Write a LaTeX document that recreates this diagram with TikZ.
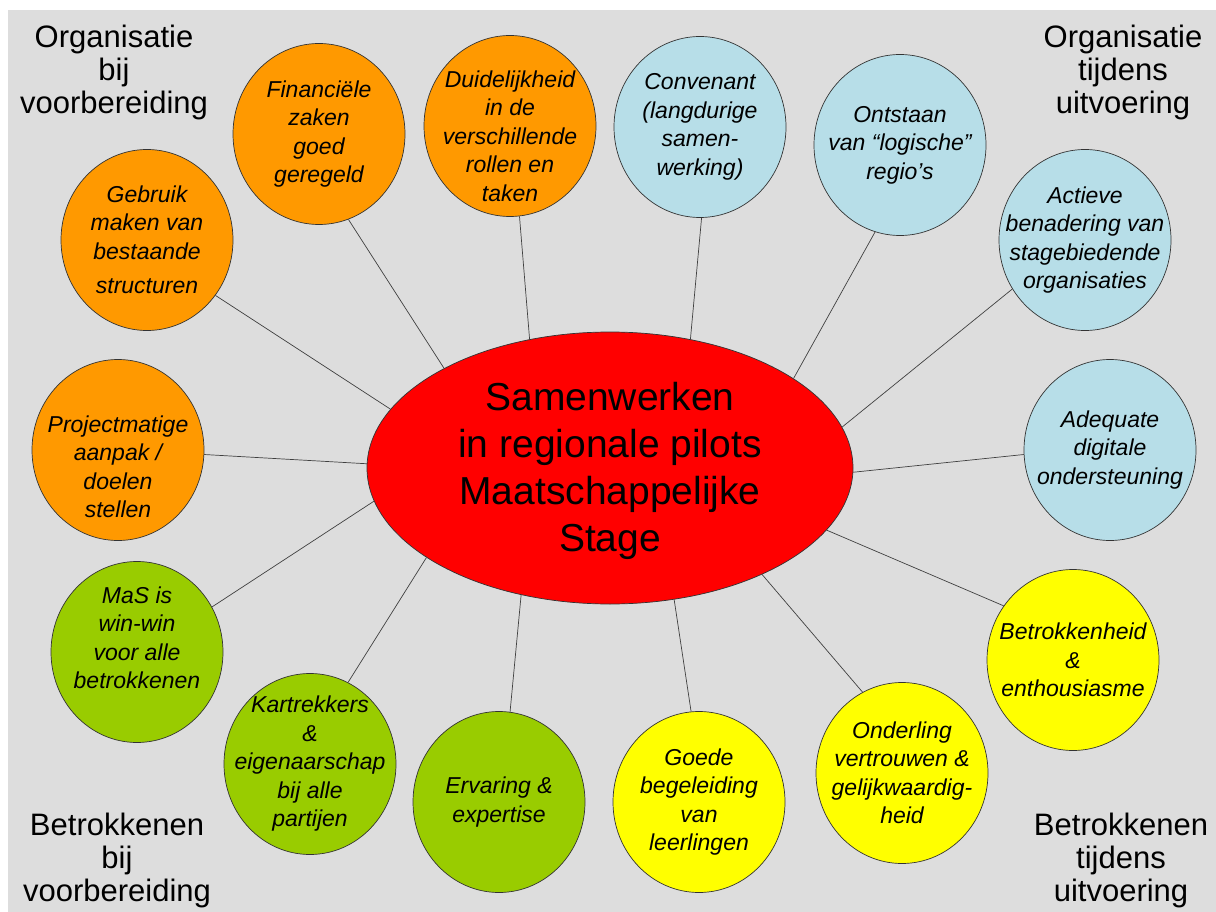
\documentclass[tikz,border=0pt]{standalone}
\usepackage{fontspec}
\setmainfont{Liberation Sans}
\usetikzlibrary{shapes.geometric}

% Kleuren
\definecolor{achtergrond}{RGB}{221,221,221}
\definecolor{oranje}{RGB}{255,153,0}
\definecolor{lichtblauw}{RGB}{183,222,232}
\definecolor{groen}{RGB}{153,204,0}
\definecolor{geel}{RGB}{255,255,0}
\definecolor{rood}{RGB}{255,0,0}

\begin{document}
\begin{tikzpicture}[x=1pt,y=-1pt,
    bol/.style={ellipse,draw=black!80,line width=0.7pt,minimum width=172pt,minimum height=181pt,inner sep=0pt},
    tekst/.style={align=center,inner sep=0pt,font=\fontsize{23}{28.5}\selectfont\itshape},
    kop/.style={align=center,inner sep=0pt,font=\fontsize{31}{33}\selectfont},
    lijn/.style={draw=black!75,line width=0.7pt}]
        % Achtergrond en afmetingen
        \useasboundingbox (0,0) rectangle (1216,912);
        \fill[achtergrond] (8,10) rectangle (1216,912);

        % Middelste ellips
        \node[bol,fill=rood,minimum width=486pt,minimum height=272pt] (stage) at (610,468) {};
        \node[align=center,inner sep=0pt,font=\fontsize{39}{47}\selectfont] (stage-t) at ([yshift=-3pt]stage)
            {Samenwerken\\in regionale pilots\\Maatschappelijke\\Stage};

        % Organisatie bij voorbereiding (oranje)
        \node[bol,fill=oranje] (gebruik) at (147,240) {};
        \node[tekst] (gebruik-t) at (gebruik) {Gebruik\\maken van\\bestaande\\[6pt]structuren};
        \node[bol,fill=oranje] (financien) at (319,134) {};
        \node[tekst] (financien-t) at (financien) {Financiële\\zaken\\goed\\geregeld};
        \node[bol,fill=oranje] (rollen) at (510,126) {};
        \node[tekst] (rollen-t) at ([yshift=-10pt]rollen) {Duidelijkheid\\in de\\verschillende\\rollen en\\taken};
        \node[bol,fill=oranje] (project) at (118,450) {};
        \node[tekst] (project-t) at ([yshift=-17pt]project) {Projectmatige\\aanpak /\\doelen\\stellen};

        % Organisatie tijdens uitvoering (lichtblauw)
        \node[bol,fill=lichtblauw] (convenant) at (700,127) {};
        \node[tekst] (convenant-t) at (convenant) {Convenant\\(langdurige\\samen-\\werking)};
        \node[bol,fill=lichtblauw] (regios) at (900,145) {};
        \node[tekst] (regios-t) at (regios) {Ontstaan\\van “logische”\\regio’s};
        \node[bol,fill=lichtblauw] (actieve) at (1085,240) {};
        \node[tekst] (actieve-t) at (actieve) {Actieve\\benadering van\\stagebiedende\\organisaties};
        \node[bol,fill=lichtblauw] (digitaal) at (1110,450) {};
        \node[tekst] (digitaal-t) at (digitaal) {Adequate\\digitale\\ondersteuning};

        % Betrokkenen tijdens uitvoering (geel)
        \node[bol,fill=geel] (betrokken) at (1073,660) {};
        \node[tekst] (betrokken-t) at (betrokken) {Betrokkenheid\\\&\\enthousiasme};
        \node[bol,fill=geel] (vertrouwen) at (902,773) {};
        \node[tekst] (vertrouwen-t) at (vertrouwen) {Onderling\\vertrouwen \&\\gelijkwaardig-\\heid};
        \node[bol,fill=geel] (begeleiding) at (699,802) {};
        \node[tekst] (begeleiding-t) at (begeleiding) {Goede\\begeleiding\\van\\leerlingen};

        % Betrokkenen bij voorbereiding (groen)
        \node[bol,fill=groen] (ervaring) at (499,802) {};
        \node[tekst] (ervaring-t) at (ervaring) {Ervaring \&\\expertise};
        \node[bol,fill=groen] (kartrekkers) at (310,764) {};
        \node[tekst] (kartrekkers-t) at (kartrekkers) {Kartrekkers\\\&\\eigenaarschap\\bij alle\\partijen};
        \node[bol,fill=groen] (winwin) at (137,652) {};
        \node[tekst] (winwin-t) at ([yshift=14pt]winwin) {MaS is\\win-win\\voor alle\\betrokkenen};

        % Verbindingslijnen naar het midden
        \draw[lijn] (gebruik.-39) -- (stage.165);
        \draw[lijn] (financien.-71) -- (stage.149);
        \draw[lijn] (rollen.-84) -- (stage.122);
        \draw[lijn] (convenant.-89) -- (stage.58);
        \draw[lijn] (regios.-106) -- (stage.26);
        \draw[lijn] (actieve.-146) -- (stage.10);
        \draw[lijn] (digitaal.183) -- (stage.-1);
        \draw[lijn] (betrokken.142) -- (stage.-16);
        \draw[lijn] (vertrouwen.116) -- (stage.-35);
        \draw[lijn] (begeleiding.95) -- (stage.-64);
        \draw[lijn] (ervaring.83) -- (stage.-125);
        \draw[lijn] (kartrekkers.65) -- (stage.-154);
        \draw[lijn] (winwin.31) -- (stage.-172);
        \draw[lijn] (project.-3) -- (stage.179);

        % Koppen in de hoeken
        \node[kop] (org-voor) at (114,72) {Organisatie\\bij\\voorbereiding};
        \node[kop] (org-uit) at (1123,72) {Organisatie\\tijdens\\uitvoering};
        \node[kop] (betr-voor) at (117,860) {Betrokkenen\\bij\\voorbereiding};
        \node[kop] (betr-uit) at (1121,860) {Betrokkenen\\tijdens\\uitvoering};
      \end{tikzpicture}
\end{document}
